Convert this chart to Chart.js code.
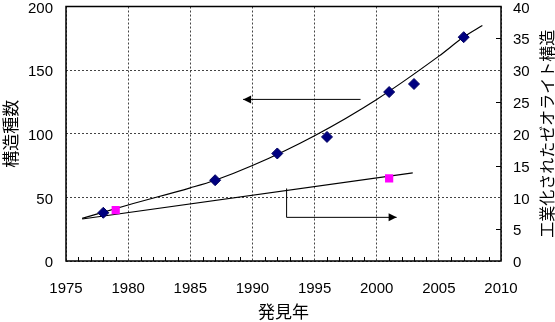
<!DOCTYPE html>
<html>
<head>
<meta charset="utf-8">
<script src="https://cdn.jsdelivr.net/npm/chart.js@4.4.0/dist/chart.umd.min.js"></script>
<style>
html, body { margin: 0; padding: 0; background: #fff; }
</style>
</head>
<body>
<canvas id="myChart" width="555" height="322"></canvas>
<script>
// 構造種数 (left axis)
var years = [1978, 1987, 1992, 1996, 2001, 2003, 2007];
var structures = [37.9, 63.5, 84.5, 97.5, 132.8, 139.1, 175.9];

// 工業化されたゼオライト構造 (right axis)
var indYears = [1979, 2001];
var industrial = [8, 13];

// trend curves
var trendYears = [1976.3, 1980, 1985, 1987, 1990, 1995, 2000, 2005, 2007, 2008.5];
var trendValues = [33.5, 44, 57.5, 63.5, 75, 98.5, 127, 161, 176, 185];
var indTrendYears = [1976.3, 2002.9];
var indTrendValues = [6.6, 13.85];

// tick labels
var xTicks = [1975, 1980, 1985, 1990, 1995, 2000, 2005, 2010];
var leftTicks = [0, 50, 100, 150, 200];
var rightTicks = [0, 5, 10, 15, 20, 25, 30, 35, 40];

var xTitle = '発見年';
var leftTitle = '構造種数';
var rightTitle = '工業化されたゼオライト構造';

function pts(xs, ys) {
  return xs.map(function (x, i) { return { x: x, y: ys[i] }; });
}

var tickFont = { family: '"Liberation Sans", Arial, sans-serif', size: 15 };
var cjkFont = '"Noto Sans CJK JP", sans-serif';

// arrows, in axis units (x: year, y: left axis)
var arrowToLeft = [[1998.7, 127], [1989.25, 127]];
var arrowToRight = [[1992.75, 57], [1992.75, 34.3], [2001.6, 34.3]];

function arrowPath(ctx, chart, path) {
  var xs = chart.scales.x, ys = chart.scales.y;
  var p = path.map(function (q) { return [xs.getPixelForValue(q[0]), ys.getPixelForValue(q[1])]; });
  ctx.beginPath();
  ctx.moveTo(p[0][0], p[0][1]);
  for (var i = 1; i < p.length; i++) ctx.lineTo(p[i][0], p[i][1]);
  ctx.stroke();
  var a = p[p.length - 2], b = p[p.length - 1];
  var ang = Math.atan2(b[1] - a[1], b[0] - a[0]);
  ctx.save();
  ctx.translate(b[0], b[1]);
  ctx.rotate(ang);
  ctx.beginPath();
  ctx.moveTo(0, 0);
  ctx.lineTo(-8, -4);
  ctx.lineTo(-8, 4);
  ctx.closePath();
  ctx.fill();
  ctx.restore();
}

// fixed box sizes so the plot area lands where it should
function fixBox(size) {
  return function (s) {
    if (s.isHorizontal()) s.height = size; else s.width = size;
    s.paddingTop = 0; s.paddingBottom = 0; s.paddingLeft = 0; s.paddingRight = 0;
  };
}

var decor = {
  id: 'decor',
  beforeDatasetsDraw: function (chart) {
    var ctx = chart.ctx, area = chart.chartArea;
    var xs = chart.scales.x, y2 = chart.scales.y2;
    ctx.save();
    ctx.strokeStyle = '#000';
    ctx.lineWidth = 1;
    // minor ticks along the bottom, one per year
    for (var yr = xs.min + 1; yr < xs.max; yr++) {
      if (yr % 5 === 0) continue;
      var px = Math.round(xs.getPixelForValue(yr)) + 0.5;
      ctx.beginPath();
      ctx.moveTo(px, area.bottom);
      ctx.lineTo(px, area.bottom - 4);
      ctx.stroke();
    }
    // minor ticks on the right axis
    for (var v = 5; v < y2.max; v += 10) {
      var py = Math.round(y2.getPixelForValue(v)) + 0.5;
      ctx.beginPath();
      ctx.moveTo(area.right, py);
      ctx.lineTo(area.right - 5, py);
      ctx.stroke();
    }
    ctx.restore();
  },
  afterDraw: function (chart) {
    var ctx = chart.ctx, area = chart.chartArea;
    ctx.save();
    // plot frame
    ctx.strokeStyle = '#000';
    ctx.lineWidth = 1.5;
    ctx.strokeRect(area.left, area.top, area.right - area.left, area.bottom - area.top);
    // arrows pointing to each axis
    ctx.lineWidth = 1;
    ctx.fillStyle = '#000';
    arrowPath(ctx, chart, arrowToLeft);
    arrowPath(ctx, chart, arrowToRight);
    // right axis title, read bottom to top
    ctx.font = '16px ' + cjkFont;
    ctx.textAlign = 'center';
    ctx.textBaseline = 'middle';
    ctx.translate(547, (area.top + area.bottom) / 2);
    ctx.rotate(-Math.PI / 2);
    ctx.fillText(rightTitle, 0, 0);
    ctx.restore();
  }
};

var ctx = document.getElementById('myChart').getContext('2d');
var myChart = new Chart(ctx, {
  type: 'scatter',
  data: {
    datasets: [{
      label: leftTitle,
      data: pts(years, structures),
      yAxisID: 'y',
      pointStyle: 'rectRot',
      pointRadius: 5.5,
      backgroundColor: '#000080',
      borderColor: '#000060',
      borderWidth: 1,
      order: 0
    }, {
      label: rightTitle,
      data: pts(indYears, industrial),
      yAxisID: 'y2',
      pointStyle: 'rect',
      pointRadius: 5.8,
      backgroundColor: '#ff00ff',
      borderColor: '#ff00ff',
      borderWidth: 0,
      order: 0
    }, {
      label: 'trend',
      data: pts(trendYears, trendValues),
      yAxisID: 'y',
      showLine: true,
      pointRadius: 0,
      borderColor: '#000',
      borderWidth: 1.2,
      cubicInterpolationMode: 'monotone',
      order: 1
    }, {
      label: 'trend2',
      data: pts(indTrendYears, indTrendValues),
      yAxisID: 'y2',
      showLine: true,
      pointRadius: 0,
      borderColor: '#000',
      borderWidth: 1.2,
      order: 1
    }]
  },
  options: {
    responsive: false,
    animation: false,
    layout: { padding: { top: 6, left: 0, right: 0, bottom: 0 } },
    plugins: { legend: { display: false }, tooltip: { enabled: false } },
    scales: {
      x: {
        type: 'linear',
        min: 1975,
        max: 2010,
        afterBuildTicks: function (s) { s.ticks = xTicks.map(function (v) { return { value: v }; }); },
        afterFit: fixBox(61),
        ticks: { font: tickFont, color: '#000', padding: 19, autoSkip: false, maxRotation: 0, callback: function (v) { return String(v); } },
        grid: { color: '#444', lineWidth: 1, drawTicks: false },
        border: { display: false, dash: [2, 2] },
        title: { display: true, text: xTitle, color: '#000', font: { family: cjkFont, size: 17 }, padding: 0 }
      },
      y: {
        position: 'left',
        min: 0,
        max: 200,
        afterBuildTicks: function (s) { s.ticks = leftTicks.map(function (v) { return { value: v }; }); },
        afterFit: fixBox(66),
        ticks: { font: tickFont, color: '#000', padding: 13, labelOffset: 2 },
        grid: { color: '#444', lineWidth: 1, drawTicks: false },
        border: { display: false, dash: [2, 2] },
        title: { display: true, text: leftTitle, color: '#000', font: { family: cjkFont, size: 17 }, padding: 0 }
      },
      y2: {
        position: 'right',
        min: 0,
        max: 40,
        afterBuildTicks: function (s) { s.ticks = rightTicks.map(function (v) { return { value: v }; }); },
        afterFit: fixBox(54),
        ticks: { font: tickFont, color: '#000', padding: 12, labelOffset: 2 },
        grid: { display: false, drawTicks: false },
        border: { display: false }
      }
    }
  },
  plugins: [decor]
});
</script>
</body>
</html>
